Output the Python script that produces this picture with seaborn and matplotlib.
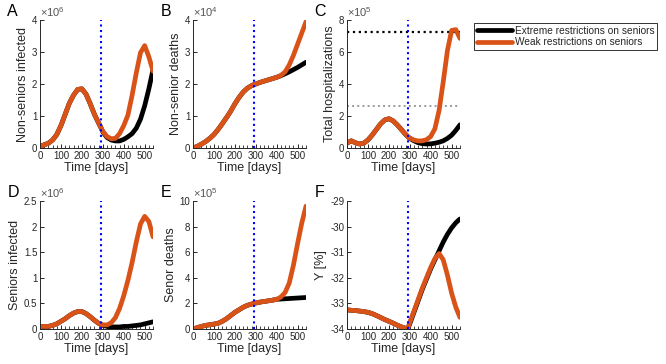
import numpy as np
import pandas as pd
import matplotlib
matplotlib.use('Agg')
import matplotlib.pyplot as plt
import seaborn as sns
from matplotlib.lines import Line2D
from matplotlib.ticker import MultipleLocator, FuncFormatter

# time grid (days); 290 = start of the restrictions
days = [0, 20, 40, 60, 80, 100, 120, 140, 160, 180, 200, 220, 240, 260, 280, 290,
        300, 320, 340, 360, 380, 400, 420, 440, 460, 480, 500, 520, 540]
scenarios = ['Extreme restrictions on seniors', 'Weak restrictions on seniors']
t_switch = 290

# A: non-seniors infected (x1e6)
nsi_weak = [0.05, 0.1, 0.15, 0.25, 0.42, 0.7, 1.05, 1.4, 1.65, 1.83, 1.85, 1.68, 1.38, 1.05, 0.78, 0.65,
            0.52, 0.36, 0.29, 0.3, 0.45, 0.7, 1.03, 1.65, 2.35, 2.98, 3.2, 2.85, 2.4]
nsi_extreme = [0.05, 0.1, 0.15, 0.25, 0.42, 0.7, 1.05, 1.4, 1.65, 1.83, 1.85, 1.68, 1.38, 1.05, 0.78, 0.65,
               0.5, 0.33, 0.25, 0.22, 0.22, 0.27, 0.35, 0.45, 0.62, 0.9, 1.32, 1.85, 2.45]
# B: non-senior deaths (x1e4)
nsd_weak = [0, 0.05, 0.12, 0.2, 0.3, 0.42, 0.58, 0.76, 0.95, 1.15, 1.38, 1.58, 1.75, 1.87, 1.95, 1.98,
            2.0, 2.05, 2.09, 2.13, 2.17, 2.21, 2.27, 2.38, 2.6, 2.9, 3.25, 3.6, 3.95]
nsd_extreme = [0, 0.05, 0.12, 0.2, 0.3, 0.42, 0.58, 0.76, 0.95, 1.15, 1.38, 1.58, 1.75, 1.87, 1.95, 1.98,
               2.0, 2.05, 2.09, 2.13, 2.17, 2.21, 2.26, 2.32, 2.38, 2.45, 2.52, 2.6, 2.68]
# C: total hospitalizations (x1e5)
hosp_weak = [0.3, 0.45, 0.33, 0.25, 0.3, 0.5, 0.8, 1.15, 1.5, 1.75, 1.83, 1.7, 1.45, 1.15, 0.85, 0.72,
             0.62, 0.5, 0.44, 0.45, 0.52, 0.72, 1.2, 2.35, 4.15, 6.1, 7.35, 7.4, 6.85]
hosp_extreme = [0.3, 0.45, 0.33, 0.25, 0.3, 0.5, 0.8, 1.15, 1.5, 1.75, 1.83, 1.7, 1.45, 1.15, 0.85, 0.72,
                0.6, 0.45, 0.33, 0.27, 0.25, 0.26, 0.3, 0.36, 0.45, 0.6, 0.8, 1.1, 1.45]
hosp_capacity = 7.27
hosp_level = 2.64
# D: seniors infected (x1e6)
si_weak = [0.05, 0.05, 0.05, 0.07, 0.1, 0.15, 0.2, 0.26, 0.31, 0.34, 0.34, 0.3, 0.24, 0.17, 0.11, 0.09,
           0.08, 0.08, 0.12, 0.22, 0.4, 0.65, 0.95, 1.3, 1.7, 2.05, 2.2, 2.1, 1.8]
si_extreme = [0.05, 0.05, 0.05, 0.07, 0.1, 0.15, 0.2, 0.26, 0.31, 0.34, 0.34, 0.3, 0.24, 0.17, 0.11, 0.09,
              0.07, 0.05, 0.04, 0.04, 0.04, 0.05, 0.05, 0.06, 0.07, 0.08, 0.1, 0.12, 0.14]
# E: senior deaths (x1e5)
sd_weak = [0, 0.1, 0.2, 0.28, 0.33, 0.38, 0.45, 0.6, 0.8, 1.05, 1.3, 1.5, 1.7, 1.85, 1.95, 1.99,
           2.03, 2.1, 2.15, 2.2, 2.25, 2.32, 2.5, 2.85, 3.6, 5.0, 6.7, 8.3, 9.6]
sd_extreme = [0, 0.1, 0.2, 0.28, 0.33, 0.38, 0.45, 0.6, 0.8, 1.05, 1.3, 1.5, 1.7, 1.85, 1.95, 1.99,
              2.03, 2.1, 2.15, 2.2, 2.25, 2.32, 2.34, 2.36, 2.38, 2.4, 2.42, 2.44, 2.46]
# F: Y [%]
y_weak = [-33.25, -33.27, -33.28, -33.3, -33.32, -33.35, -33.4, -33.47, -33.55, -33.63, -33.7, -33.77,
          -33.85, -33.92, -33.97, -34.0, -33.75, -33.3, -32.85, -32.4, -32.0, -31.6, -31.25, -31.05,
          -31.3, -31.9, -32.6, -33.15, -33.55]
y_extreme = [-33.25, -33.27, -33.28, -33.3, -33.32, -33.35, -33.4, -33.47, -33.55, -33.63, -33.7, -33.77,
             -33.85, -33.92, -33.97, -34.0, -33.8, -33.35, -32.9, -32.45, -32.05, -31.65, -31.3, -30.95,
             -30.6, -30.3, -30.05, -29.85, -29.7]

panels = [
    ('A', 'Non-seniors infected', nsi_extreme, nsi_weak, (0, 4), 1, 6),
    ('B', 'Non-senior deaths', nsd_extreme, nsd_weak, (0, 4), 1, 4),
    ('C', 'Total hospitalizations', hosp_extreme, hosp_weak, (0, 8), 2, 5),
    ('D', 'Seniors infected', si_extreme, si_weak, (0, 2.5), 0.5, 6),
    ('E', 'Senor deaths', sd_extreme, sd_weak, (0, 10), 2, 5),
    ('F', 'Y [%]', y_extreme, y_weak, (-34, -29), 1, None),
]

sns.set_style('ticks')
plt.rcParams['font.family'] = ['Liberation Sans', 'DejaVu Sans']
plt.rcParams['mathtext.fontset'] = 'custom'
plt.rcParams['mathtext.rm'] = 'Liberation Sans'

orange = '#D95319'
palette = {scenarios[0]: 'black', scenarios[1]: orange}
grey = '#262626'

fig = plt.figure(figsize=(6.66, 3.64), dpi=100)
lefts = [0.0601, 0.2898, 0.5210]
bottoms = [0.5934, 0.0962]
w, h = 0.1697, 0.3516

for i, (letter, ylab, ext, weak, ylim, ystep, expo) in enumerate(panels):
    r, c = divmod(i, 3)
    ax = fig.add_axes([lefts[c], bottoms[r], w, h])
    df = pd.DataFrame({
        'day': days + days,
        'value': ext + weak,
        'scenario': [scenarios[0]] * len(days) + [scenarios[1]] * len(days),
    })
    sns.lineplot(data=df, x='day', y='value', hue='scenario', hue_order=scenarios,
                 palette=palette, estimator=None, errorbar=None, linewidth=3.4,
                 legend=False, ax=ax)
    if letter == 'C':
        ax.axhline(hosp_capacity, color='black', ls=':', lw=1.6, zorder=1)
        ax.axhline(hosp_level, color='#9a9a9a', ls=':', lw=1.4, zorder=1)
    ax.axvline(t_switch, color='blue', ls=':', lw=1.5, zorder=4)

    ax.set_xlim(0, 540)
    ax.set_ylim(*ylim)
    ax.xaxis.set_major_locator(MultipleLocator(100))
    ax.xaxis.set_minor_locator(MultipleLocator(20))
    ax.yaxis.set_major_locator(MultipleLocator(ystep))
    ax.yaxis.set_major_formatter(FuncFormatter(lambda v, p: '{:g}'.format(round(v, 3))))
    ax.tick_params(direction='in', labelsize=7, colors=grey, length=3, width=0.7, pad=2)
    ax.tick_params(axis='x', which='minor', direction='in', length=2, width=0.6, colors=grey)
    sns.despine(ax=ax)
    for s in ['left', 'bottom']:
        ax.spines[s].set_color(grey)
        ax.spines[s].set_linewidth(0.7)
    ax.set_xlabel('Time [days]', fontsize=9, color=grey, labelpad=1)
    ax.set_ylabel(ylab, fontsize=9, color=grey, labelpad=2)
    if expo is not None:
        ax.text(0.0, 1.01, r'$\times10^{%d}$' % expo, transform=ax.transAxes,
                fontsize=8, color='#555555', ha='left', va='bottom')
    # panel letter
    fig.text(lefts[c] - 0.049, bottoms[r] + h + 0.002, letter, fontsize=11.5, color='black',
             ha='left', va='bottom')

handles = [Line2D([], [], color='black', lw=3.4), Line2D([], [], color=orange, lw=3.4)]
leg = fig.legend(handles, scenarios, loc='upper left', bbox_to_anchor=(0.712, 0.936),
                 fontsize=7.3, frameon=True, fancybox=False, edgecolor='black',
                 handlelength=3.5, handletextpad=0.3, labelspacing=0.15,
                 borderpad=0.25, borderaxespad=0)
leg.get_frame().set_linewidth(0.7)

fig.savefig('out.png', dpi=100)
